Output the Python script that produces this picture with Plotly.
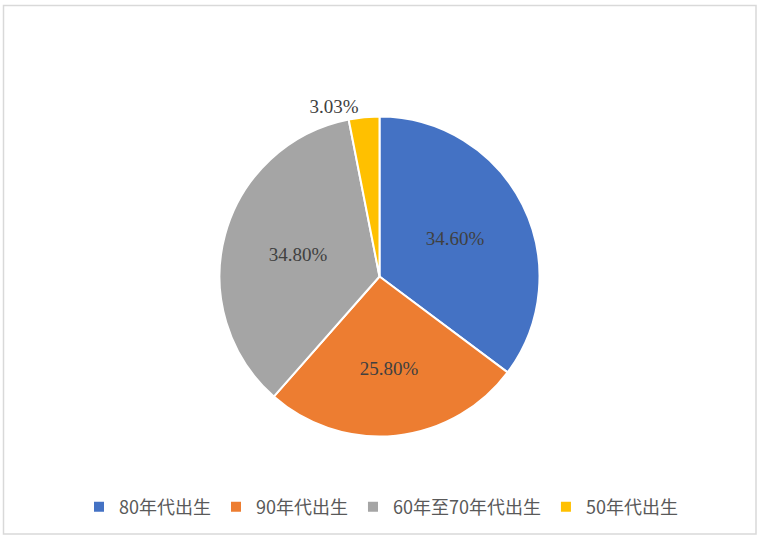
import plotly.graph_objects as go

# share of respondents by birth decade (as printed on the chart)
groups = ["80年代出生", "90年代出生", "60年至70年代出生", "50年代出生"]
shares = [34.60, 25.80, 34.80, 3.03]
colors = ["#4472C4", "#ED7D31", "#A5A5A5", "#FFC000"]
label_pos = ["inside", "inside", "inside", "outside"]

W, H = 760, 541


def px_x(x):
    return x / W


def px_y(y):
    return (H - y) / H


fig = go.Figure(
    go.Pie(
        labels=groups,
        values=shares,
        text=[f"{v:.2f}%" for v in shares],
        textinfo="text",
        textposition=label_pos,
        insidetextorientation="horizontal",
        textfont=dict(family="Liberation Serif", size=19, color="#404040"),
        marker=dict(colors=colors, line=dict(color="#ffffff", width=2)),
        sort=False,
        direction="clockwise",
        rotation=0,
        domain=dict(x=[px_x(219.5), px_x(539.5)], y=[px_y(436.5), px_y(116.5)]),
        hovertemplate="%{label}<br>%{text}<extra></extra>",
    )
)

fig.update_layout(
    width=W,
    height=H,
    margin=dict(l=0, r=0, t=0, b=0),
    paper_bgcolor="#ffffff",
    plot_bgcolor="#ffffff",
    showlegend=True,
    legend=dict(
        orientation="h",
        x=px_x(381),
        xanchor="center",
        y=px_y(507),
        yanchor="middle",
        font=dict(family="Noto Sans CJK SC", size=18, color="#595959"),
        itemwidth=30,
        traceorder="normal",
    ),
    shapes=[
        dict(
            type="rect",
            xref="paper",
            yref="paper",
            x0=px_x(3.5),
            x1=px_x(756),
            y0=px_y(534),
            y1=px_y(5.5),
            line=dict(color="#D9D9D9", width=1.5),
            fillcolor="rgba(0,0,0,0)",
            layer="below",
        )
    ],
)

# drop the browser's default 8px body margin so the figure sits at the page corner
fig.write_html(
    "out.html",
    config={"displayModeBar": False},
    post_script="document.body.style.margin='0';document.body.style.overflow='hidden';",
)
